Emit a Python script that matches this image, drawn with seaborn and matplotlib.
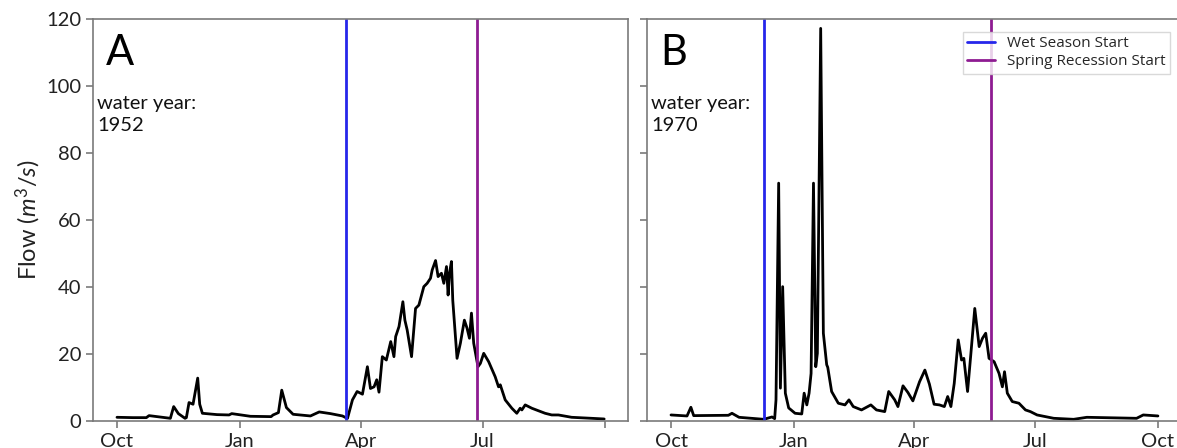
import seaborn as sns
import matplotlib.pyplot as plt
import pandas as pd

# days since Oct 1 of the water year, and flow (m3/s)
days_1952 = [0, 12, 22, 24, 40, 42.5, 46, 51, 52, 54, 57, 60.5, 62, 64, 75, 84, 86, 100,
             115.5, 117, 121, 123.5, 127, 132, 145, 151.6, 160, 169, 171.5, 172.8,
             176.5, 180, 184, 187.7, 190, 192.7, 194.7, 196.4, 198.9, 201.9, 205.2,
             207.6, 208.9, 211.4, 214.3, 215.8, 217.5, 220.8, 223.8, 226.3, 230, 232.5,
             235, 236.3, 238.8, 240.7, 243.2, 245, 247, 248.2, 249.2, 250.7, 251.7,
             254.9, 257.4, 260.4, 262.4, 264.2, 265.7, 267.4, 270.6, 272.4, 274.9,
             278.6, 283.5, 286, 287.3, 291, 296, 299.7, 302.2, 303.5, 306, 311, 320.9,
             325.9, 330.9, 340.8, 355.7, 365.2]
flow_1952 = [1.1, 1.0, 1.0, 1.6, 0.8, 4.3, 2.2, 0.8, 1.0, 5.5, 5.0, 12.8, 5.0, 2.3, 1.9,
             1.8, 2.2, 1.4, 1.3, 1.8, 2.5, 9.2, 4.0, 2.0, 1.5, 2.7, 2.2, 1.5, 1.0, 0.8,
             6.3, 8.8, 8.0, 16.2, 9.7, 10.2, 12.3, 8.6, 19.2, 18.2, 23.7, 19.2, 25.2,
             28.2, 35.6, 30.1, 27.2, 19.2, 33.6, 34.6, 40.1, 41.1, 42.6, 45.1, 47.9,
             43.1, 44.1, 41.1, 46.1, 37.6, 44.0, 47.6, 36.0, 18.7, 23.2, 30.1, 27.7,
             24.7, 32.2, 23.2, 16.2, 17.2, 20.2, 17.7, 13.2, 10.2, 10.8, 6.3, 3.8, 2.3,
             3.8, 3.3, 4.8, 3.8, 2.3, 1.8, 1.8, 1.1, 0.8, 0.6]

days_1970 = [0, 12, 14.9, 17, 43, 45.7, 51, 69.5, 75.7, 77.7, 78.7, 80.7, 82, 83.7, 85.7,
             88.2, 93, 98, 99.8, 101.8, 103.5, 105, 106.8, 108.5, 109.7, 112.2, 114.2,
             116.7, 117.5, 120.4, 125.4, 130.4, 133.4, 136.6, 142.8, 149.8, 154, 160.2,
             163.2, 167.7, 170.1, 173.9, 177.6, 181.3, 186.3, 190.3, 193.7, 197.2,
             201.2, 204.9, 207.4, 209.8, 212.3, 215.3, 217.8, 219.5, 222.3, 224.7,
             227.7, 231, 233.5, 235.9, 238.4, 242.2, 245.9, 248.4, 250, 252.1, 255.8,
             260.8, 265.7, 269.4, 274.4, 286.9, 301.8, 311.7, 349, 354, 365]
flow_1970 = [1.8, 1.5, 4.1, 1.6, 1.7, 2.3, 1.1, 0.5, 1.2, 0.7, 6.3, 71.0, 9.8, 40.1, 8.3,
             3.9, 2.3, 2.1, 8.3, 4.8, 8.3, 14.2, 71.0, 16.2, 20.2, 117.2, 26.2, 16.8,
             16.0, 8.8, 5.3, 4.8, 6.3, 4.3, 3.3, 4.8, 3.3, 2.8, 8.8, 6.3, 4.3, 10.5, 8.5,
             6.0, 11.7, 15.2, 11.0, 5.0, 4.8, 4.3, 7.3, 4.3, 11.2, 24.2, 18.2, 18.7, 8.8,
             19.7, 33.6, 22.2, 24.7, 26.2, 18.7, 17.7, 14.2, 10.2, 14.7, 8.3, 5.8, 5.3,
             3.3, 2.8, 1.8, 0.8, 0.5, 1.1, 0.8, 1.8, 1.5]

water_years = ["1952", "1970"]
panel_letters = ["A", "B"]
wet_start_days = [172, 69.5]
recession_days = [270, 240]
tick_months = ["Oct", "Jan", "Apr", "Jul", "Oct"]
tick_offsets = [0, 92, 183, 274, 366]
tick_offsets_1970 = [0, 92, 182, 273, 365]

sns.set_style("ticks")
plt.rcParams["font.family"] = ["Lato", "DejaVu Sans"]
plt.rcParams["mathtext.fontset"] = "custom"
plt.rcParams["mathtext.rm"] = "Lato"
plt.rcParams["mathtext.it"] = "Lato:italic"

fig = plt.figure(figsize=(11.77, 4.48), dpi=100)
ax1 = fig.add_axes([0.0790, 0.0603, 0.4545, 0.8973])
ax2 = fig.add_axes([0.5497, 0.0603, 0.4545, 0.8973])

series = [(days_1952, flow_1952), (days_1970, flow_1970)]
starts = [pd.Timestamp("1951-10-01"), pd.Timestamp("1969-10-01")]
offsets = [tick_offsets, tick_offsets_1970]
labels = [tick_months[:4] + [""], tick_months]

for i, ax in enumerate([ax1, ax2]):
    start = starts[i]
    d, f = series[i]
    df = pd.DataFrame({"date": start + pd.to_timedelta(d, unit="D"), "flow": f})
    sns.lineplot(data=df, x="date", y="flow", color="black", lw=2, ax=ax)
    ax.axvline(start + pd.Timedelta(days=wet_start_days[i]), color="#2626ea", lw=2,
               label="Wet Season Start")
    ax.axvline(start + pd.Timedelta(days=recession_days[i]), color="#8e1b92", lw=2,
               label="Spring Recession Start")
    ax.set_xlim(start - pd.Timedelta(days=18), start + pd.Timedelta(days=383))
    ax.set_ylim(0, 120)
    ax.set_yticks(range(0, 121, 20))
    ax.set_xticks([start + pd.Timedelta(days=o) for o in offsets[i]])
    ax.set_xticklabels(labels[i])
    ax.set_xlabel("")
    ax.set_ylabel("")
    for s in ax.spines.values():
        s.set_color("#7a7a7a")
        s.set_linewidth(1.2)
    ax.tick_params(colors="#7a7a7a", labelcolor="#222222", labelsize=14.5, length=5,
                   width=1.2)
    ax.text(0.024, 0.962, panel_letters[i], transform=ax.transAxes, fontsize=30,
            va="top", ha="left", color="black")
    ax.text(0.008, 0.81, "water year:\n" + water_years[i], transform=ax.transAxes,
            fontsize=14.5, va="top", ha="left", linespacing=1.3, color="#111111")

ax2.set_yticklabels([])
ax1.set_ylabel("Flow ($m^3/s$)", fontsize=17, color="#222222", labelpad=2)
leg = ax2.legend(loc="upper left", bbox_to_anchor=(0.576, 0.987), frameon=True,
                 fancybox=False, edgecolor="#d0d0d0", handlelength=1.8,
                 borderpad=0.3, labelspacing=0.2, prop={"family": "Open Sans", "size": 11})

plt.savefig("out.png", dpi=100)
